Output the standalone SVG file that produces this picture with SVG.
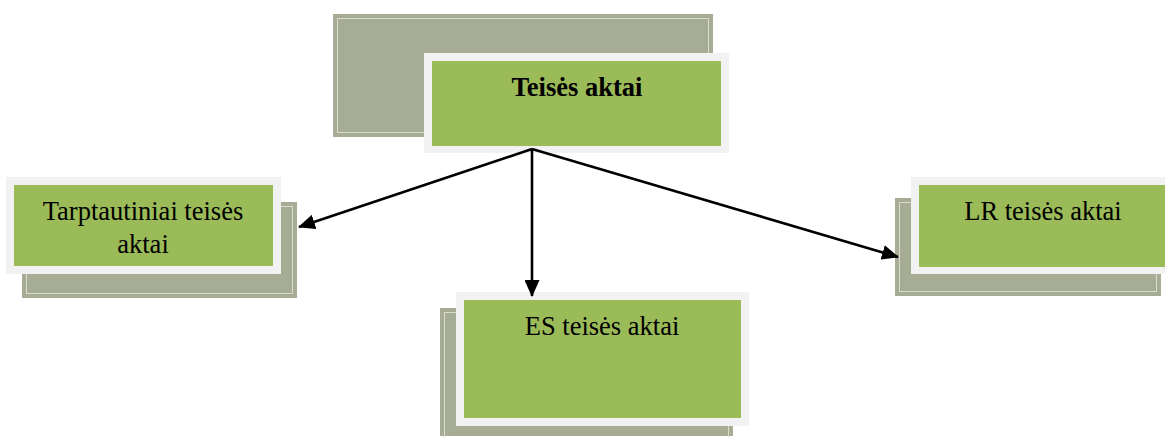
<svg xmlns="http://www.w3.org/2000/svg" width="1165" height="437" viewBox="0 0 1165 437">
  <style>
    .back { fill: #a6ad94; }
    .backline { fill: none; stroke: #d9dccf; stroke-width: 1; }
    .frame { fill: #f2f2f2; }
    .face { fill: #9bbb59; }
    .label { font-family: "Liberation Serif", "Times New Roman", serif; font-size: 26.5px; fill: #000; text-anchor: middle; }
    .bold { font-weight: bold; }
    .conn { stroke: #000; stroke-width: 2.6; fill: none; marker-end: url(#arrow); }
  </style>
  <defs>
    <marker id="arrow" viewBox="0 0 17 15" refX="16" refY="7.5" markerWidth="17" markerHeight="15" orient="auto" markerUnits="userSpaceOnUse">
      <path d="M0,0 L17,7.5 L0,15 z" fill="#000"/>
    </marker>
  </defs>

  <rect width="1165" height="437" fill="#fff"/>

  <!-- root node -->
  <g id="node-teises-aktai">
    <rect class="back" x="333" y="14" width="380" height="123"/>
    <rect class="backline" x="337.5" y="18.5" width="371" height="114"/>
    <rect class="frame" x="424" y="53" width="305" height="100"/>
    <rect class="face" x="432" y="61" width="289" height="85"/>
    <text class="label bold" x="577" y="96">Teisės aktai</text>
  </g>

  <!-- international acts -->
  <g id="node-tarptautiniai">
    <rect class="back" x="22" y="202" width="275" height="96"/>
    <rect class="backline" x="26.5" y="206.5" width="266" height="87"/>
    <rect class="frame" x="6" y="177" width="275" height="97"/>
    <rect class="face" x="14" y="185" width="259" height="81"/>
    <text class="label" x="143" y="220">Tarptautiniai teisės</text>
    <text class="label" x="143" y="253">aktai</text>
  </g>

  <!-- EU acts -->
  <g id="node-es">
    <rect class="back" x="440" y="308" width="293" height="128"/>
    <rect class="backline" x="444.5" y="312.5" width="284" height="130"/>
    <rect class="frame" x="456" y="292" width="293" height="134"/>
    <rect class="face" x="464" y="300" width="277" height="118"/>
    <text class="label" x="602" y="335">ES teisės aktai</text>
  </g>

  <!-- national acts -->
  <g id="node-lr">
    <rect class="back" x="895" y="198" width="266" height="98"/>
    <rect class="backline" x="899.5" y="202.5" width="257" height="89"/>
    <rect class="frame" x="911" y="177" width="262" height="97"/>
    <rect class="face" x="919" y="185" width="254" height="82"/>
    <text class="label" x="1043" y="220">LR teisės aktai</text>
  </g>

  <!-- connectors -->
  <g id="connectors">
    <line class="conn" x1="532" y1="149" x2="299" y2="227"/>
    <line class="conn" x1="532" y1="149" x2="532" y2="296"/>
    <line class="conn" x1="532" y1="149" x2="898" y2="257"/>
  </g>
</svg>
